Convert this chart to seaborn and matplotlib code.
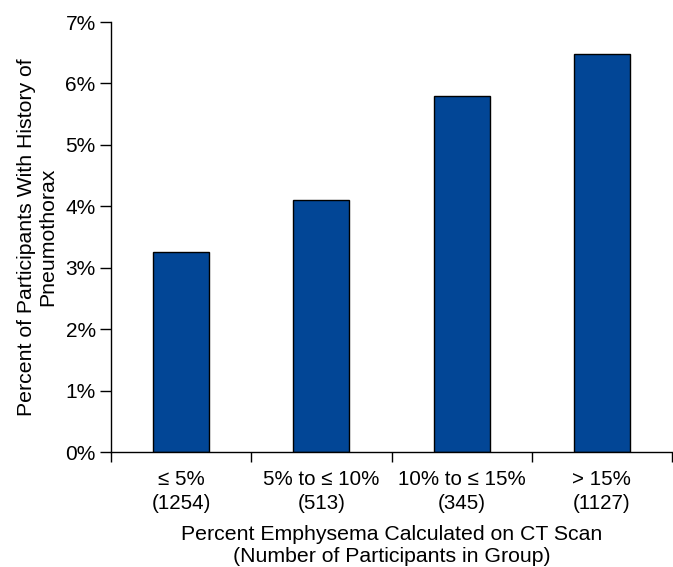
import seaborn as sns
import pandas as pd
import matplotlib.pyplot as plt
from matplotlib.ticker import FixedLocator

# Datos
grupos = ['\u2264 5%\n(1254)', '5% to \u2264 10%\n(513)', '10% to \u2264 15%\n(345)', '> 15%\n(1127)']
porcentaje = [3.26, 4.10, 5.80, 6.48]
y_ticks = [0, 1, 2, 3, 4, 5, 6, 7]
y_labels = ['0%', '1%', '2%', '3%', '4%', '5%', '6%', '7%']

sns.set_style('white')
plt.rcParams['font.family'] = ['Liberation Sans', 'DejaVu Sans']
plt.rcParams['text.color'] = 'black'
plt.rcParams['axes.labelcolor'] = 'black'
plt.rcParams['xtick.color'] = 'black'
plt.rcParams['ytick.color'] = 'black'

df = pd.DataFrame({'Grupo': grupos, 'Porcentaje': porcentaje})

fig = plt.figure(figsize=(6.73, 5.67), dpi=100)
ax = fig.add_axes([111 / 673, 1 - 452 / 567, (672 - 111) / 673, (452 - 22) / 567])

sns.barplot(data=df, x='Grupo', y='Porcentaje', color='#024696', saturation=1,
            width=0.4, edgecolor='black', linewidth=1, ax=ax)

ax.set_xlim(-0.5, 3.5)
ax.set_ylim(0, 7)
ax.set_yticks(y_ticks)
ax.set_yticklabels(y_labels, fontsize=15)
ax.set_xticks(range(len(grupos)))
ax.set_xticklabels(grupos, fontsize=14.8, linespacing=1.3)
ax.xaxis.set_minor_locator(FixedLocator([-0.5, 0.5, 1.5, 2.5, 3.5]))
ax.tick_params(axis='x', which='major', length=0, pad=13, bottom=True, colors='black')
ax.tick_params(axis='x', which='minor', length=7, width=1, color='black',
               direction='out', bottom=True)
ax.tick_params(axis='y', length=8, width=1, color='black', labelcolor='black',
               direction='out', left=True, pad=3)

for lado in ['top', 'right']:
    ax.spines[lado].set_visible(False)
for lado in ['left', 'bottom']:
    ax.spines[lado].set_color('black')
    ax.spines[lado].set_linewidth(1)

ax.set_xlabel('Percent Emphysema Calculated on CT Scan\n(Number of Participants in Group)',
              fontsize=15.3, linespacing=1.2, va='top', color='black')
ax.xaxis.set_label_coords(0.5, -0.170)
ax.set_ylabel('Percent of Participants With History of\nPneumothorax', fontsize=15.3,
              linespacing=1.2, color='black')
ax.yaxis.set_label_coords(-0.095, 0.5)

plt.savefig('out.png', dpi=100)
plt.close()
